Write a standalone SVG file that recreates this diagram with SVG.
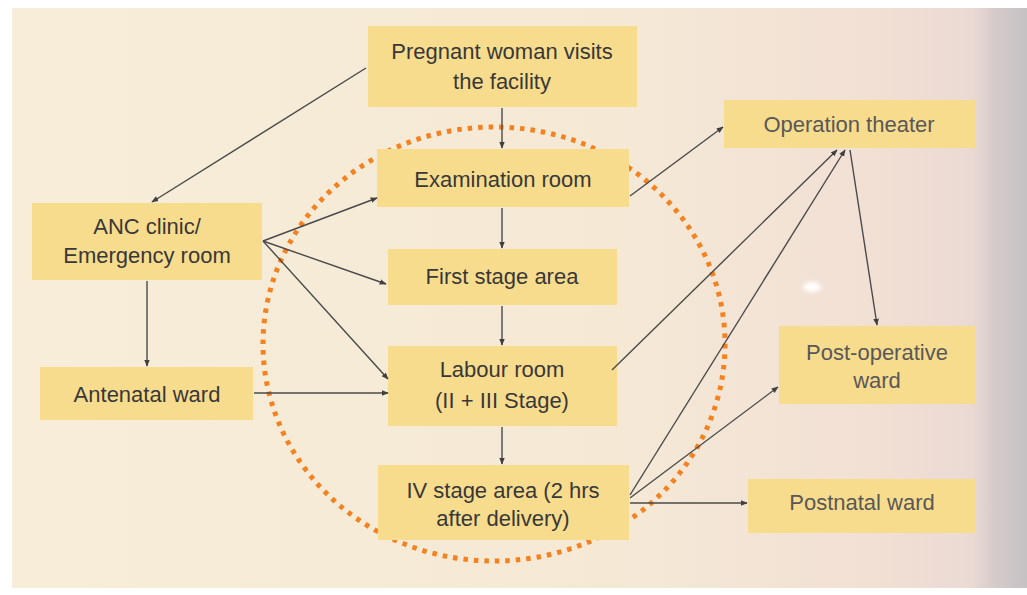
<svg xmlns="http://www.w3.org/2000/svg" width="1027" height="595" viewBox="0 0 1027 595">
  <defs>
    <linearGradient id="bg" x1="0" y1="0" x2="1" y2="0">
      <stop offset="0" stop-color="#F7EDD8"/>
      <stop offset="0.6" stop-color="#F5E9D6"/>
      <stop offset="0.86" stop-color="#F1DFD4"/>
      <stop offset="0.945" stop-color="#EBDAD3"/>
      <stop offset="0.97" stop-color="#D4CACA"/>
      <stop offset="1" stop-color="#C6C1C3"/>
    </linearGradient>
    <marker id="arrow" viewBox="0 0 10 10" refX="9" refY="5" markerWidth="7" markerHeight="7" markerUnits="userSpaceOnUse" orient="auto">
      <path d="M0,1 L10,5 L0,9 z" fill="#3F3F3F"/>
    </marker>
    <filter id="soft" x="-50%" y="-50%" width="200%" height="200%">
      <feGaussianBlur stdDeviation="2"/>
    </filter>
  </defs>
  <style>
    .box { fill: #F8DC8E; }
    .label { font-family: "Liberation Sans", Arial, sans-serif; font-size: 22px; fill: #383838; text-anchor: middle; }
    .faded { fill: #585858; }
    .link { stroke: #4A4A4A; stroke-width: 1.4; fill: none; marker-end: url(#arrow); }
    .ring { fill: none; stroke: #F5811F; stroke-width: 5; stroke-dasharray: 4.5 6; }
  </style>

  <!-- page -->
  <rect x="0" y="0" width="1027" height="595" fill="#FFFFFF"/>
  <rect x="12" y="8" width="1015" height="580" fill="url(#bg)"/>
  <ellipse cx="812" cy="287" rx="9" ry="5" fill="#FFFFFF" filter="url(#soft)"/>

  <!-- dotted boundary of the labour suite -->
  <ellipse class="ring" cx="494" cy="344" rx="231" ry="217"/>

  <g id="n-pregnant">
    <rect class="box" x="368" y="26" width="269" height="81"/>
    <text class="label" x="502" y="59">Pregnant woman visits</text>
    <text class="label" x="502" y="89">the facility</text>
  </g>
  <g id="n-examination">
    <rect class="box" x="377" y="149" width="252" height="58"/>
    <text class="label" x="503" y="187">Examination room</text>
  </g>
  <g id="n-first-stage">
    <rect class="box" x="388" y="249" width="229" height="56"/>
    <text class="label" x="502" y="284">First stage area</text>
  </g>
  <g id="n-labour">
    <rect class="box" x="388" y="346" width="229" height="80"/>
    <text class="label" x="502" y="377">Labour room</text>
    <text class="label" x="502" y="408">(II + III Stage)</text>
  </g>
  <g id="n-iv-stage">
    <rect class="box" x="378" y="465" width="251" height="75"/>
    <text class="label" x="503" y="498">IV stage area (2 hrs</text>
    <text class="label" x="503" y="526">after delivery)</text>
  </g>
  <g id="n-anc">
    <rect class="box" x="32" y="203" width="230" height="77"/>
    <text class="label" x="147" y="234">ANC clinic/</text>
    <text class="label" x="147" y="263">Emergency room</text>
  </g>
  <g id="n-antenatal">
    <rect class="box" x="40" y="367" width="213" height="53"/>
    <text class="label" x="147" y="402">Antenatal ward</text>
  </g>
  <g id="n-operation">
    <rect class="box" x="724" y="100" width="251" height="48"/>
    <text class="label faded" x="849" y="132">Operation theater</text>
  </g>
  <g id="n-postop">
    <rect class="box" x="779" y="326" width="196" height="78"/>
    <text class="label faded" x="877" y="360">Post-operative</text>
    <text class="label faded" x="877" y="388">ward</text>
  </g>
  <g id="n-postnatal">
    <rect class="box" x="748" y="479" width="227" height="54"/>
    <text class="label faded" x="862" y="510">Postnatal ward</text>
  </g>

  <g id="connectors">
    <line class="link" x1="366" y1="68" x2="152" y2="202"/>
    <line class="link" x1="502" y1="108" x2="502" y2="148"/>
    <line class="link" x1="502" y1="208" x2="502" y2="248"/>
    <line class="link" x1="502" y1="306" x2="502" y2="345"/>
    <line class="link" x1="502" y1="427" x2="502" y2="464"/>
    <line class="link" x1="263" y1="241" x2="377" y2="198"/>
    <line class="link" x1="263" y1="241" x2="386" y2="284"/>
    <line class="link" x1="263" y1="241" x2="388" y2="379"/>
    <line class="link" x1="147" y1="281" x2="147" y2="366"/>
    <line class="link" x1="254" y1="393" x2="388" y2="393"/>
    <line class="link" x1="630" y1="196" x2="723" y2="127"/>
    <line class="link" x1="612" y1="370" x2="837" y2="150"/>
    <line class="link" x1="630" y1="495" x2="845" y2="150"/>
    <line class="link" x1="630" y1="498" x2="778" y2="387"/>
    <line class="link" x1="630" y1="503" x2="747" y2="503"/>
    <line class="link" x1="850" y1="150" x2="877" y2="325"/>
  </g>
</svg>
